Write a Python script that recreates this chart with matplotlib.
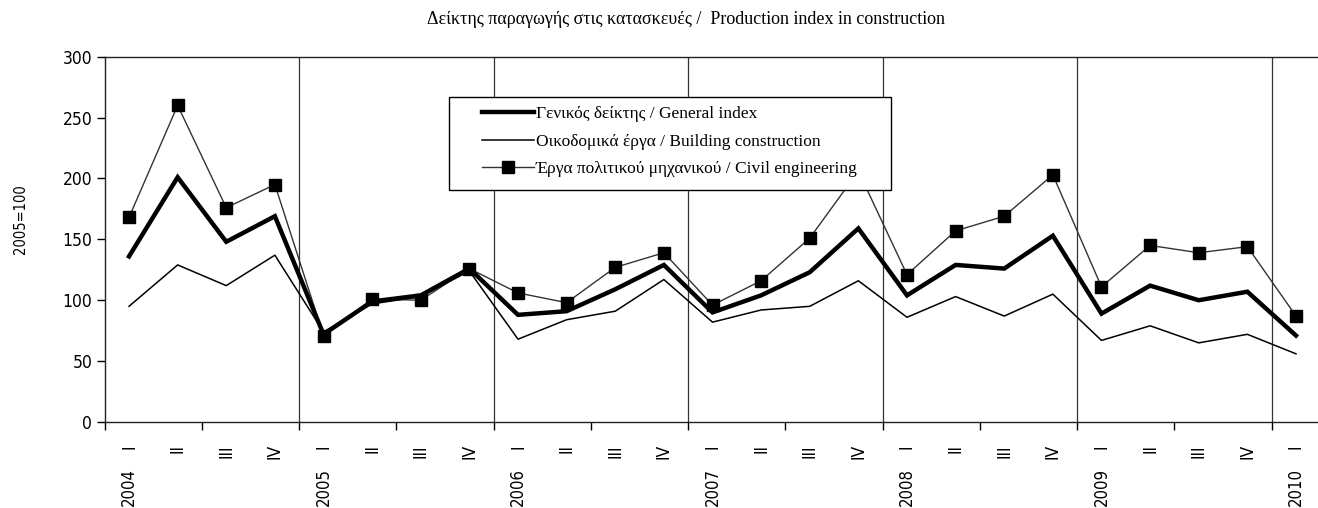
import numpy as np
import matplotlib
matplotlib.use('Agg')
import matplotlib.pyplot as plt
from matplotlib import font_manager
from matplotlib.font_manager import FontProperties
from matplotlib.patches import Rectangle
import matplotlib.transforms as mtransforms

# quarterly data 2004 I .. 2010 I
quarters = ['I', 'II', 'III', 'IV'] * 6 + ['I']
years = ['2004', '2005', '2006', '2007', '2008', '2009', '2010']

general = [136, 201, 148, 169, 72, 99, 104, 126,
           88, 91, 109, 129, 90, 104, 123, 159,
           104, 129, 126, 153, 89, 112, 100, 107, 71]
building = [95, 129, 112, 137, 74, 97, 103, 124,
            68, 84, 91, 117, 82, 92, 95, 116,
            86, 103, 87, 105, 67, 79, 65, 72, 56]
civil = [168, 260, 176, 195, 71, 101, 100, 126,
         106, 98, 127, 139, 96, 116, 151, 206,
         121, 157, 169, 203, 111, 145, 139, 144, 87]

# narrow sans for axis text if some condensed face is around
narrow_file = None
for f in font_manager.fontManager.ttflist:
    base = f.fname.split('/')[-1]
    if base in ('LiberationSansNarrow-Regular.ttf', 'DejaVuSansCondensed.ttf'):
        narrow_file = f.fname
        break


def nfont(size):
    if narrow_file:
        return FontProperties(fname=narrow_file, size=size)
    return FontProperties(family='Liberation Sans', size=size)


serif = 'Liberation Serif'

W, H = 1318, 508
fig = plt.figure(figsize=(W / 100, H / 100), dpi=100)
x0, x1 = 104.7, 1320.3
y0, y1 = 56.7, 422
ax = fig.add_axes([x0 / W, 1 - y1 / H, (x1 - x0) / W, (y1 - y0) / H])

x = np.arange(len(general))
l_build, = ax.plot(x, building, color='black', lw=1.1, zorder=3)
l_civil, = ax.plot(x, civil, color='#333333', lw=1.0, marker='s', ms=9,
                   mfc='black', mec='black', zorder=4)
l_gen, = ax.plot(x, general, color='black', lw=3.2, zorder=5,
                 solid_joinstyle='miter')

ax.set_xlim(-0.5, len(general) - 0.5)
ax.set_ylim(0, 300)

# year separators
for b in np.arange(3.5, len(general), 4):
    ax.axvline(b, color='#333333', lw=0.9, zorder=1)

ax.spines['right'].set_visible(False)
for s in ['left', 'top', 'bottom']:
    ax.spines[s].set_linewidth(1.0)
    ax.spines[s].set_color('#222222')

ax.set_yticks(np.arange(0, 301, 50))
ax.tick_params(axis='y', direction='out', length=6, width=1.0, pad=3)
for t in ax.get_yticklabels():
    t.set_fontproperties(nfont(12.5))

ax.set_xticks(np.arange(-0.5, len(general), 2))
ax.set_xticklabels([])
ax.tick_params(axis='x', which='major', direction='out', length=6, width=1.0)
ax.set_xticks(x, minor=True)
ax.set_xticklabels(quarters, minor=True, rotation=90, va='top',
                   fontproperties=nfont(12.5))
ax.tick_params(axis='x', which='minor', length=0, pad=16)

trans = mtransforms.blended_transform_factory(ax.transData, fig.transFigure)
for i, yr in enumerate(years):
    ax.text(i * 4, 1 - 468 / H, yr, transform=trans, rotation=90,
            ha='center', va='top', fontproperties=nfont(12))

fig.text(20 / W, 1 - 219 / H, '2005=100', rotation=90, ha='center',
         va='center', fontproperties=nfont(10.5))

fig.text(427 / W, 1 - 19 / H,
         'Δείκτης παραγωγής στις κατασκευές /  Production index in construction',
         ha='left', va='center', fontsize=13, fontfamily=serif)

# legend box drawn by hand, entries via a figure legend on top
box = Rectangle((449 / W, 1 - 190 / H), (891 - 449) / W, (190 - 97) / H,
                transform=fig.transFigure, fc='white', ec='black', lw=1.0,
                zorder=5)
fig.add_artist(box)
leg = fig.legend([l_gen, l_build, l_civil],
                 ['Γενικός δείκτης / General index',
                  'Οικοδομικά έργα / Building construction',
                  'Έργα πολιτικού μηχανικού / Civil engineering'],
                 loc='upper left', bbox_to_anchor=(482 / W, 1 - 106 / H),
                 bbox_transform=fig.transFigure, borderaxespad=0,
                 borderpad=0, frameon=False,
                 prop={'family': serif, 'size': 12.5}, handlelength=3.0,
                 handletextpad=0.1, labelspacing=0.66)
leg.set_zorder(6)

fig.savefig('out.png', dpi=100)
